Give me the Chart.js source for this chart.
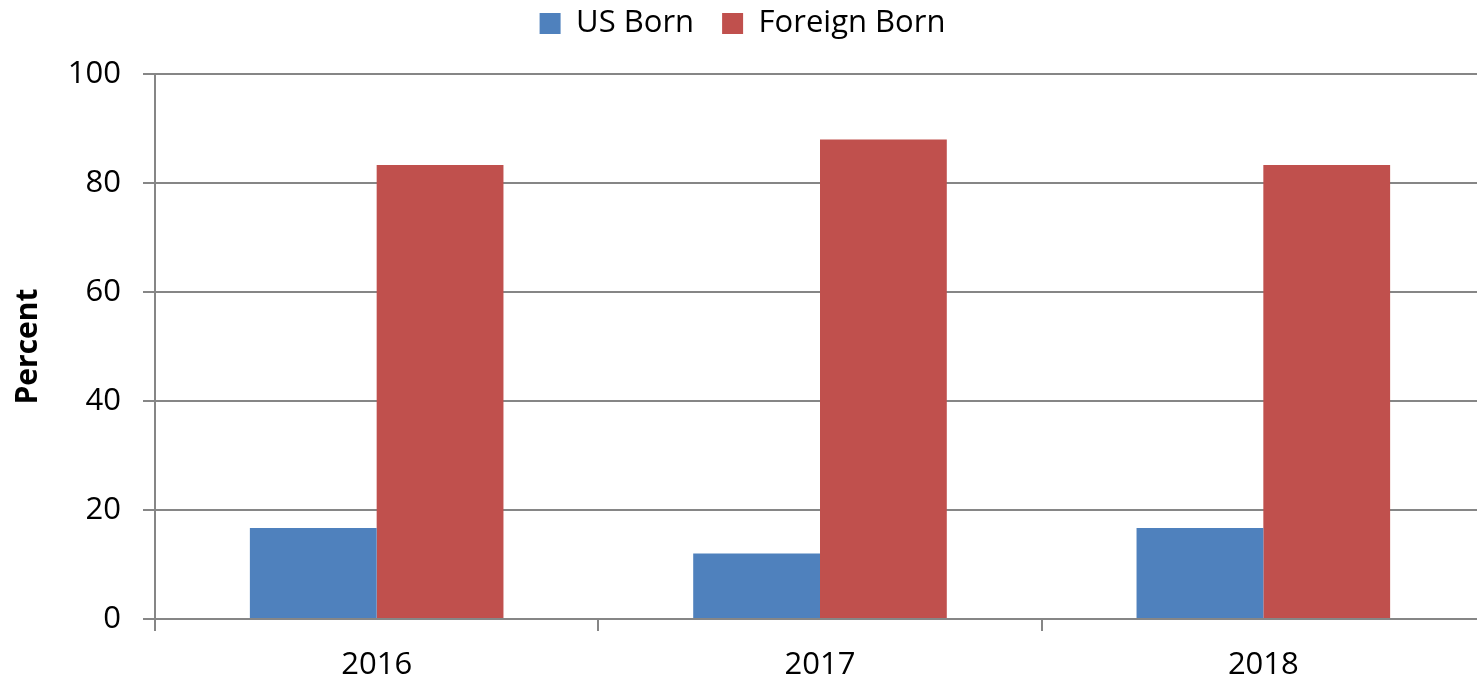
<!DOCTYPE html>
<html>
<head>
<meta charset="utf-8">
<script src="https://cdn.jsdelivr.net/npm/chart.js@4"></script>
<style>
  html, body { margin: 0; padding: 0; background: #fff; overflow: hidden; }
  #wrap { width: 1485px; height: 680px; }
</style>
</head>
<body>
<div id="wrap"><canvas id="chart"></canvas></div>
<script>
// --- data ---
const years = ['2016', '2017', '2018'];
const usBorn = [16.7, 12.0, 16.7];
const foreignBorn = [83.3, 88.0, 83.3];
const yTicks = [0, 20, 40, 60, 80, 100];

const FONT = "'Open Sans', sans-serif";

// tweak legend box height so the plot starts where the reference does
const legendGap = {
    id: 'legendGap',
    beforeInit(chart) {
        const fit = chart.legend.fit;
        chart.legend.fit = function () {
            fit.call(this);
            this.height += 25;
        };
    }
};

new Chart(document.getElementById('chart'), {
    type: 'bar',
    data: {
        labels: years,
        datasets: [
            { label: 'US Born', data: usBorn, backgroundColor: '#4F81BD' },
            { label: 'Foreign Born', data: foreignBorn, backgroundColor: '#C0504D' }
        ]
    },
    plugins: [legendGap],
    options: {
        responsive: true,
        maintainAspectRatio: false,
        animation: false,
        layout: { padding: { top: -20, left: 0, right: 0, bottom: 0 } },
        datasets: { bar: { categoryPercentage: 0.572, barPercentage: 1.0 } },
        plugins: {
            legend: {
                position: 'top',
                labels: {
                    font: { family: FONT, size: 31 },
                    color: '#000',
                    boxWidth: 21,
                    boxHeight: 21,
                    padding: 28
                }
            },
            tooltip: { enabled: false }
        },
        scales: {
            x: {
                grid: {
                    offset: true,
                    drawOnChartArea: false,
                    drawTicks: true,
                    tickLength: 12,
                    color: '#868686',
                    lineWidth: 2
                },
                border: { color: '#868686', width: 2 },
                ticks: { font: { family: FONT, size: 31 }, color: '#000', padding: 16 },
                afterFit: (s) => { s.height = 61; }
            },
            y: {
                min: 0,
                max: 100,
                afterBuildTicks: (s) => { s.ticks = yTicks.map(v => ({ value: v })); },
                grid: { color: '#868686', lineWidth: 2, tickLength: 12 },
                border: { color: '#868686', width: 2 },
                ticks: { font: { family: FONT, size: 31 }, color: '#000', padding: 22 },
                title: {
                    display: true,
                    text: 'Percent',
                    font: { family: FONT, size: 30, weight: 'bold' },
                    color: '#000',
                    padding: { top: 10, bottom: 0 }
                },
                afterFit: (s) => { s.width = 155; }
            }
        }
    }
});
</script>
</body>
</html>
